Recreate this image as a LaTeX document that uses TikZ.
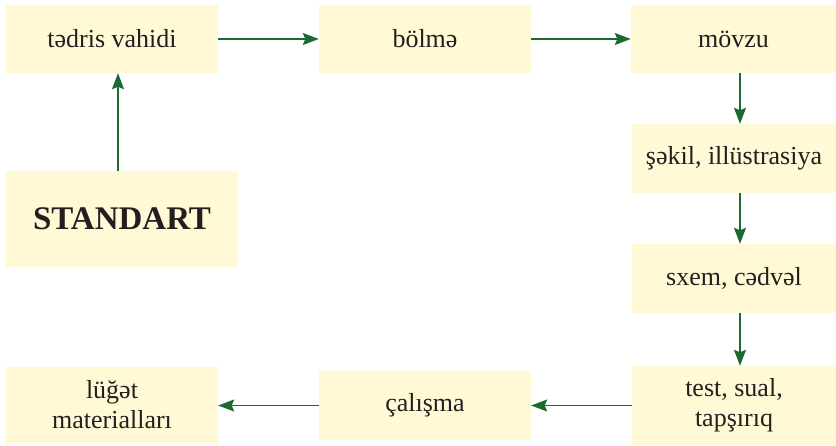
\documentclass[tikz,border=0pt]{standalone}
\usepackage{fontspec}
\setmainfont{Liberation Serif}
\usetikzlibrary{arrows.meta}
\definecolor{boxfill}{HTML}{FFF9D6}
\definecolor{arrgreen}{HTML}{1C6A2E}
\definecolor{txt}{HTML}{231F20}
\begin{document}
\begin{tikzpicture}[x=1pt,y=-1pt,
  box/.style={fill=boxfill, draw=none, align=center, inner sep=0pt,
    font=\fontsize{26}{30}\selectfont, text=txt},
  arr/.style={draw=arrgreen, line width=1.4pt,
    -{Stealth[length=16pt,width=12pt,inset=2.5pt]}}]
\useasboundingbox (0,0) rectangle (836,445);
\node[box, minimum width=212pt, minimum height=68pt] (t1) at (112,39) {tədris vahidi};
\node[box, minimum width=212pt, minimum height=68pt] (t2) at (425,39) {bölmə};
\node[box, minimum width=205pt, minimum height=68pt] (t3) at (733.5,39) {mövzu};
\node[box, minimum width=204pt, minimum height=69pt] (t4) at (734,158.5) {şəkil, illüstrasiya};
\node[box, minimum width=204pt, minimum height=69pt] (t5) at (734,278.5) {sxem, cədvəl};
\node[box, minimum width=204pt, minimum height=79pt] (t6) at (734,405.5) {test, sual,\\tapşırıq};
\node[box, minimum width=212pt, minimum height=69pt] (t7) at (425,405.5) {çalışma};
\node[box, minimum width=212pt, minimum height=76pt] (t8) at (112,405) {lüğət\\materialları};
\node[box, minimum width=232pt, minimum height=96pt, font=\fontsize{33}{38}\selectfont\bfseries] (std) at (122,219) {STANDART};
\coordinate (vx) at (740,0);
\coordinate (sx) at (118,0);
\draw[arr] (t1) -- (t2);
\draw[arr] (t2) -- (t3);
\draw[arr] (t3.south -| vx) -- (t4.north -| vx);
\draw[arr] (t4.south -| vx) -- (t5.north -| vx);
\draw[arr] (t5.south -| vx) -- (t6.north -| vx);
\draw[arr] (t6) -- (t7);
\draw[arr] (t7.west) -- (t7.west -| t8.east);
\draw[arr] (std.north -| sx) -- (t1.south -| sx);
\end{tikzpicture}
\end{document}
